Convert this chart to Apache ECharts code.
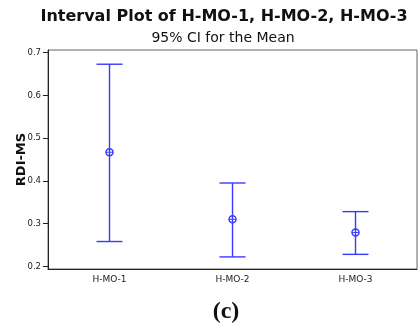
<!DOCTYPE html>
<html>
<head>
<meta charset="utf-8">
<script src="https://cdn.jsdelivr.net/npm/echarts@6/dist/echarts.min.js"></script>
<style>
  html, body { margin: 0; padding: 0; background: #fff; }
  #chart { width: 418px; height: 325px; }
</style>
</head>
<body>
<div id="chart"></div>
<script>
// Groups and their 95% confidence intervals for the mean of RDI-MS
const categories = ['H-MO-1', 'H-MO-2', 'H-MO-3'];
const upper = [0.673, 0.395, 0.328];
const mean = [0.467, 0.310, 0.279];
const lower = [0.258, 0.222, 0.228];
const yTicks = [0.2, 0.3, 0.4, 0.5, 0.6, 0.7];

const blue = '#3a3aff';
const intervalData = categories.map((c, i) => [i, lower[i], mean[i], upper[i]]);

const chart = echarts.init(document.getElementById('chart'), null, { renderer: 'canvas' });

chart.setOption({
  animation: false,
  backgroundColor: '#fff',
  title: [
    {
      text: 'Interval Plot of H-MO-1, H-MO-2, H-MO-3',
      left: 219, top: 4, textAlign: 'center',
      textStyle: { fontFamily: 'DejaVu Sans', fontWeight: 'bold', fontSize: 16, color: '#111' }
    },
    {
      text: '95% CI for the Mean',
      left: 218, top: 26, textAlign: 'center',
      textStyle: { fontFamily: 'DejaVu Sans', fontWeight: 'normal', fontSize: 14, color: '#111' }
    },
    {
      text: '(c)',
      left: 221, top: 295, textAlign: 'center',
      textStyle: { fontFamily: 'Liberation Serif', fontWeight: 'bold', fontSize: 24, color: '#111' }
    }
  ],
  grid: {
    left: 48, right: 1, top: 50, bottom: 56,
    outerBoundsMode: 'none',
    containLabel: false,
    show: true, borderColor: '#666', borderWidth: 1, backgroundColor: '#fff'
  },
  xAxis: {
    type: 'category',
    data: categories,
    boundaryGap: true,
    axisLine: { lineStyle: { color: '#222', width: 1 } },
    axisTick: { alignWithLabel: true, length: 4, lineStyle: { color: '#222' } },
    axisLabel: { fontFamily: 'DejaVu Sans', fontSize: 9, color: '#222', margin: 6 },
    splitLine: { show: false }
  },
  yAxis: {
    type: 'value',
    min: 0.1937,
    max: 0.7063,
    name: 'RDI-MS',
    nameLocation: 'middle',
    nameGap: 20,
    nameMoveOverlap: false,
    nameTextStyle: { fontFamily: 'DejaVu Sans', fontWeight: 'bold', fontSize: 13, color: '#111' },
    axisLine: { show: true, lineStyle: { color: '#222', width: 1 } },
    axisTick: { show: true, length: 5, customValues: yTicks, lineStyle: { color: '#222' } },
    axisLabel: {
      fontFamily: 'DejaVu Sans', fontSize: 8.5, color: '#222', margin: 7,
      customValues: yTicks,
      formatter: v => v.toFixed(1)
    },
    splitLine: { show: false }
  },
  series: [{
    type: 'custom',
    data: intervalData,
    encode: { x: 0, y: [1, 2, 3] },
    renderItem: function (params, api) {
      const i = api.value(0);
      const lo = api.coord([i, api.value(1)]);
      const mid = api.coord([i, api.value(2)]);
      const hi = api.coord([i, api.value(3)]);
      const half = 13;
      const r = 3.5;
      const stroke = { stroke: blue, lineWidth: 1.4 };
      return {
        type: 'group',
        children: [
          { type: 'line', shape: { x1: hi[0], y1: hi[1], x2: lo[0], y2: lo[1] }, style: stroke },
          { type: 'line', shape: { x1: hi[0] - half, y1: hi[1], x2: hi[0] + half, y2: hi[1] }, style: stroke },
          { type: 'line', shape: { x1: lo[0] - half, y1: lo[1], x2: lo[0] + half, y2: lo[1] }, style: stroke },
          { type: 'circle', shape: { cx: mid[0], cy: mid[1], r: r }, style: { fill: 'none', stroke: blue, lineWidth: 1.5 } },
          { type: 'line', shape: { x1: mid[0] - r, y1: mid[1], x2: mid[0] + r, y2: mid[1] }, style: { stroke: blue, lineWidth: 1 } }
        ]
      };
    }
  }]
});
</script>
</body>
</html>
